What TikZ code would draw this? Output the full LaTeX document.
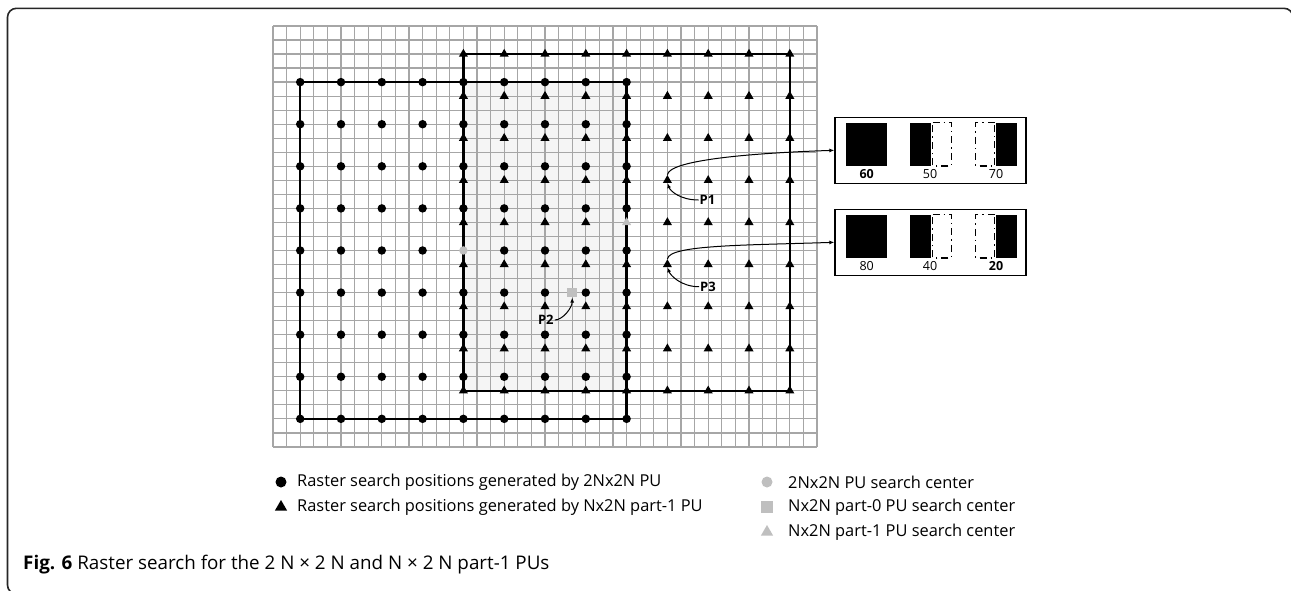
\documentclass[tikz,border=0pt]{standalone}
\usepackage{fontspec}
\setmainfont{Open Sans}
\usetikzlibrary{arrows.meta, shapes.geometric}

\begin{document}
\begin{tikzpicture}[x=1pt, y=-1pt,
    gridline/.style={black!35, line width=1.3pt},
    region/.style={line width=2.4pt, line join=miter},
    dotmark/.style={circle, fill=black, inner sep=0pt, minimum size=8.5pt},
    trimark/.style={regular polygon, regular polygon sides=3, fill=black, inner sep=0pt, minimum size=10.5pt},
    sqmark/.style={rectangle, fill=black!25, inner sep=0pt, minimum size=9.5pt},
    ptr/.style={-{Latex[length=5pt, width=4pt]}, line width=1pt},
    plabel/.style={font=\fontsize{13}{15}\selectfont\bfseries, inner sep=1pt},
    numlabel/.style={font=\fontsize{12.5}{14}\selectfont, inner sep=0pt},
    cmpbox/.style={draw, line width=1.4pt, minimum width=191pt, minimum height=66pt, inner sep=0pt},
    dashhalf/.style={line width=1.2pt, dash pattern=on 7pt off 4pt on 1.5pt off 4pt},
    legtext/.style={anchor=west, font=\fontsize{16.4}{19}\selectfont, inner sep=0pt}]
  \useasboundingbox (0,0) rectangle (1291,590);
  % ---- outer frame ----
  \draw[line width=1.6pt, black!85, rounded corners=9pt]
    (60,594) -- (7.5,594) -- (7.5,8.3) -- (1293,8.3) -- (1293,60);
  % ---- sample grid, 40 x 30 cells ----
  \begin{scope}[shift={(273,26)}, x=13.6pt, y=-14.03pt]
    \fill[black!4] (14,4) rectangle (26,26);
    \foreach \i in {0,...,40}
      \draw[gridline] (\i,0) -- (\i,30);
    \foreach \j in {0,...,30}
      \draw[gridline] (0,\j) -- (40,\j);
    \draw[region] (2,4) rectangle (26,28);
    \draw[region] (14,2) rectangle (38,26);
    % 2Nx2N raster positions
    \foreach \i in {2,5,...,26}
      \foreach \j in {4,7,...,28}
        {\ifnum\i\j=1416 \else \node[dotmark] (d\i-\j) at (\i,\j) {}; \fi}
    % Nx2N part-1 raster positions
    \foreach \i in {14,17,...,38}
      \foreach \j in {2,5,...,26}
        {\ifnum\i\j=2614 \else \node[trimark] (t\i-\j) at (\i,\j) {}; \fi}
    % search centers
    \node[dotmark, fill=black!25] (c2n) at (14,16) {};
    \node[trimark, fill=black!25] (cpart1) at (26,14) {};
    \node[sqmark] (cpart0) at (22,19) {};
  \end{scope}
  % ---- cost boxes ----
  \foreach \b/\yy/\la/\lb/\lc in {1/117.3/{\textbf{60}}/50/70, 2/209.3/80/40/{\textbf{20}}} {
    \node[cmpbox] (box\b) at (930.5,\yy+33) {};
    \fill (845.7,\yy+5.3) rectangle (887.3,\yy+48.7);
    \draw[dashhalf] (932.5,\yy+5.3) -- (951.7,\yy+5.3) -- (951.7,\yy+48.7) -- (932.5,\yy+48.7) -- cycle;
    \fill (910,\yy+5.3) rectangle (931,\yy+48.7);
    \draw[dashhalf] (994.5,\yy+5.3) -- (975.7,\yy+5.3) -- (975.7,\yy+48.7) -- (994.5,\yy+48.7) -- cycle;
    \fill (996,\yy+5.3) rectangle (1016.7,\yy+48.7);
    \node[numlabel] (n\b a) at (866.7,\yy+56.7) {\la};
    \node[numlabel] (n\b b) at (930,\yy+56.7) {\lb};
    \node[numlabel] (n\b c) at (996,\yy+56.7) {\lc};
  }
  % ---- point labels and pointers ----
  \node[plabel] (p1) at (707.5,200) {P1};
  \node[plabel] (p2) at (545.8,320) {P2};
  \node[plabel] (p3) at (708,286.7) {P3};
  \draw[ptr] (p1.west) .. controls +(-18,0) and +(3,8) .. (t29-11.south);
  \draw[ptr] (p3.west) .. controls +(-18,0) and +(3,8) .. (t29-17.south);
  \draw[ptr] (p2.east) .. controls +(8,0) and +(0,10) .. (cpart0.south);
  \draw[ptr] (t29-11.north) .. controls +(2,-14) and +(-90,3) .. (box1.west);
  \draw[ptr] (t29-17.north) .. controls +(2,-14) and +(-90,3) .. (box2.west);
  % ---- legend ----
  \node[dotmark, minimum size=11pt] (lg-dot) at (281,482) {};
  \node[legtext] (lg-dot-t) at (297,482) {Raster search positions generated by 2Nx2N PU};
  \node[trimark, minimum size=14pt] (lg-tri) at (281,507) {};
  \node[legtext] (lg-tri-t) at (297,507) {Raster search positions generated by Nx2N part-1 PU};
  \node[dotmark, fill=black!25, minimum size=11pt] (lg-c2n) at (767,482) {};
  \node[legtext] (lg-c2n-t) at (788,482) {2Nx2N PU search center};
  \node[sqmark, minimum size=12pt] (lg-c0) at (767,507) {};
  \node[legtext] (lg-c0-t) at (788,507) {Nx2N part-0 PU search center};
  \node[trimark, fill=black!25, minimum size=14pt] (lg-c1) at (767,532) {};
  \node[legtext] (lg-c1-t) at (788,532) {Nx2N part-1 PU search center};
  % ---- caption ----
  \node[anchor=base west, font=\fontsize{18.8}{22}\selectfont, inner sep=0pt] (caption) at (23,569)
    {\textbf{Fig. 6} Raster search for the 2 N × 2 N and N × 2 N part-1 PUs};
\end{tikzpicture}
\end{document}
